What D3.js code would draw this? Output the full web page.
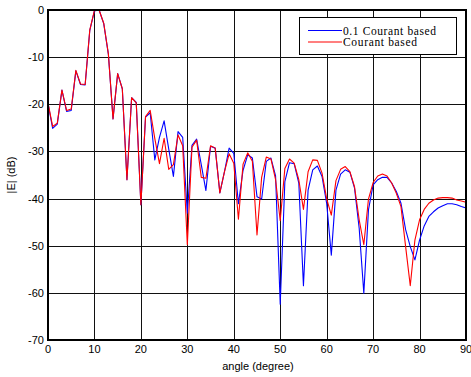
<!DOCTYPE html>
<html>
<head>
<meta charset="utf-8">
<script src="https://cdn.jsdelivr.net/npm/d3@7"></script>
<style>
  body { margin: 0; background: #fff; }
  svg { display: block; }
</style>
</head>
<body>
<div id="chart"></div>
<script>
// sampled angles (degree)
const angles = [0,1,2,3,4,5,6,7,8,9,10,11,12,13,14,15,16,17,18,19,20,21,22,23,24,25,26,27,28,29,
  30,31,32,33,34,35,36,37,38,39,40,41,42,43,44,45,46,47,48,49,50,51,52,53,54,55,56,57,58,59,
  60,61,62,63,64,65,66,67,68,69,70,71,72,73,74,75,76,77,78,79,80,81,82,83,84,85,86,87,88,89,90];

// |E| in dB, "0.1 Courant based"
const fineCourant = [-19.8,-25.1,-24.2,-17,-21.5,-21.3,-12.9,-15.8,-15.9,-4.3,
  -0.2,0,-2.9,-9.4,-23.1,-13.5,-16.7,-36,-18.6,-19.6,
  -41.3,-22.7,-21.8,-31.8,-27,-23.5,-29.5,-35.3,-25.8,-27,
  -43.1,-28.7,-27.4,-32.8,-38.3,-28.9,-29.3,-38.8,-34.3,-29.3,
  -30.4,-41.1,-34,-30.7,-31.4,-39.6,-40.1,-32.1,-31.4,-35.2,
  -62.4,-36.4,-32.4,-32.6,-36.7,-58.5,-38.2,-33.9,-33.1,-35.3,
  -41,-52,-38.2,-34.8,-33.9,-34.4,-37.8,-46.3,-60.1,-42.4,
  -37.1,-36,-35.5,-35.5,-36.7,-38.5,-41,-46.6,-50.2,-53,
  -48.8,-45.8,-43.8,-42.8,-42,-41.5,-41.1,-41.1,-41.3,-41.7,-42];

// |E| in dB, "Courant based"
const courant = [-19.7,-24.7,-24,-17,-21.3,-21,-12.8,-15.7,-15.8,-4.2,
  -0.1,0,-2.8,-9.3,-23.1,-13.5,-16.7,-36,-18.6,-19.7,
  -41.3,-22.6,-21.3,-27.3,-32.6,-27.2,-33.8,-32.8,-26.5,-28.8,
  -49.8,-29.1,-27.6,-35.5,-35.7,-28.8,-29.3,-38.8,-34.3,-30.5,
  -32.5,-44.4,-32.7,-30.3,-32.1,-47.7,-35.5,-31.2,-31.6,-36,
  -44.7,-33.6,-31.6,-32.5,-36,-42.3,-34.3,-31.8,-31.9,-34.6,
  -40,-43.5,-36.2,-33.8,-33.2,-34.3,-37.5,-44.5,-49.8,-40.1,
  -36.6,-35.2,-34.8,-35.2,-36.7,-38.9,-41.7,-50.2,-58.5,-48.8,
  -44.5,-42.3,-41,-40.3,-39.9,-39.8,-39.8,-39.9,-40.3,-40.5,-40.8];

const xTicks = [0,10,20,30,40,50,60,70,80,90];
const yTicks = [-70,-60,-50,-40,-30,-20,-10,0];
const seriesNames = ["0.1 Courant based", "Courant based"];
const seriesColors = ["#0000ff", "#ff0000"];

const width = 471, height = 377;
const margin = { top: 10, right: 5, bottom: 37, left: 48 };

const svg = d3.select("#chart").append("svg")
  .attr("width", width)
  .attr("height", height);

const x = d3.scaleLinear().domain([0, 90]).range([margin.left, width - margin.right]);
const y = d3.scaleLinear().domain([-70, 0]).range([height - margin.bottom, margin.top]);

// snap grid lines to the pixel grid so they come out dark like the original
const px = v => Math.round(v) + 0.5;

svg.append("g")
  .selectAll("line")
  .data(xTicks)
  .join("line")
  .attr("x1", d => px(x(d))).attr("x2", d => px(x(d)))
  .attr("y1", y(-70)).attr("y2", y(0))
  .attr("stroke", "#111").attr("stroke-width", 1);

svg.append("g")
  .selectAll("line")
  .data(yTicks)
  .join("line")
  .attr("y1", d => px(y(d))).attr("y2", d => px(y(d)))
  .attr("x1", x(0)).attr("x2", x(90))
  .attr("stroke", "#111").attr("stroke-width", 1);

// tick labels
const font = "Arial, 'Liberation Sans', sans-serif";
svg.append("g")
  .selectAll("text")
  .data(xTicks)
  .join("text")
  .attr("x", d => x(d))
  .attr("y", y(-70) + 13)
  .attr("text-anchor", "middle")
  .attr("font-family", font)
  .attr("font-size", 11)
  .text(d => d);

svg.append("g")
  .selectAll("text")
  .data(yTicks)
  .join("text")
  .attr("x", x(0) - 4)
  .attr("y", d => y(d) + 4)
  .attr("text-anchor", "end")
  .attr("font-family", font)
  .attr("font-size", 11)
  .text(d => d);

// axis titles
svg.append("text")
  .attr("x", 258).attr("y", 370)
  .attr("text-anchor", "middle")
  .attr("font-family", font).attr("font-size", 11)
  .text("angle (degree)");

svg.append("text")
  .attr("transform", `translate(15,${y(-35)}) rotate(-90)`)
  .attr("text-anchor", "middle")
  .attr("font-family", font).attr("font-size", 11)
  .text("|E| (dB)");

// lines
const line = d3.line()
  .x((d, i) => x(angles[i]))
  .y(d => y(d));

[fineCourant, courant].forEach((s, i) => {
  svg.append("path")
    .datum(s)
    .attr("d", line)
    .attr("fill", "none")
    .attr("stroke", seriesColors[i])
    .attr("stroke-width", 1.1)
    .attr("stroke-linejoin", "round");
});

// frame
svg.append("rect")
  .attr("x", x(0)).attr("y", y(0))
  .attr("width", x(90) - x(0))
  .attr("height", y(-70) - y(0))
  .attr("fill", "none")
  .attr("stroke", "#000")
  .attr("stroke-width", 2);

// legend
const lg = svg.append("g");
lg.append("rect")
  .attr("x", 299.5).attr("y", 17.5)
  .attr("width", 157).attr("height", 37)
  .attr("fill", "#fff")
  .attr("stroke", "#000")
  .attr("stroke-width", 1);

seriesNames.forEach((name, i) => {
  const ly = 30.5 + i * 11.5;
  lg.append("line")
    .attr("x1", 308).attr("x2", 342)
    .attr("y1", ly).attr("y2", ly)
    .attr("stroke", seriesColors[i])
    .attr("stroke-width", 1.1);
  lg.append("text")
    .attr("x", 343).attr("y", ly + 4)
    .attr("font-family", "'Times New Roman', 'Liberation Serif', serif")
    .attr("font-size", 11.5)
    .attr("textLength", i === 0 ? 93 : 74)
    .attr("lengthAdjust", "spacing")
    .text(name);
});
</script>
</body>
</html>
